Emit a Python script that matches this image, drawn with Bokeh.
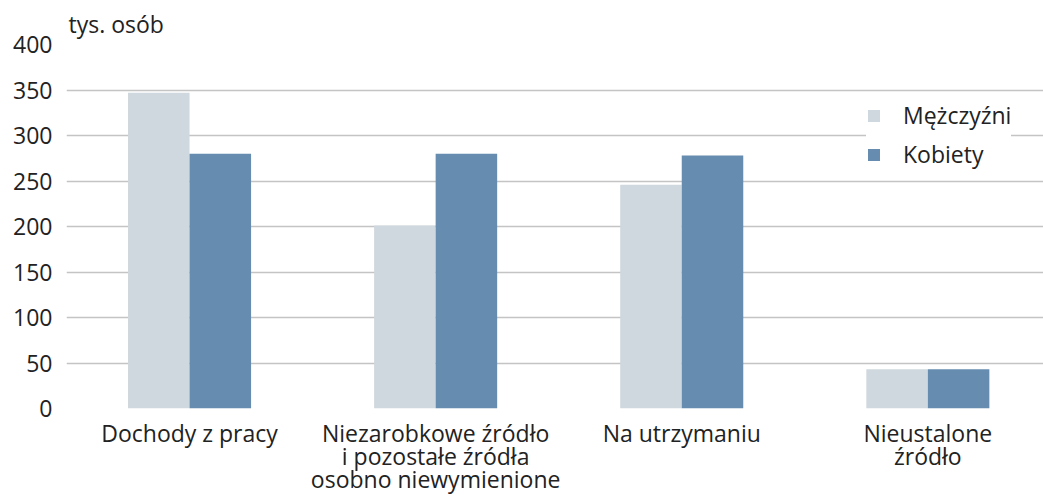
from bokeh.plotting import figure
from bokeh.models import FixedTicker, Legend, LegendItem, Range1d, ColumnDataSource
from bokeh.embed import file_html
from bokeh.resources import INLINE

categories = ["Dochody z pracy", "Niezarobkowe źródło\ni pozostałe źródła\nosobno niewymienione",
              "Na utrzymaniu", "Nieustalone\nźródło"]
men = [347, 201, 246, 43]
women = [280, 280, 278, 43]
series_names = ["Mężczyźni", "Kobiety"]
colors = ["#CFD8DE", "#668CB0"]
y_ticks = [0, 50, 100, 150, 200, 250, 300, 350, 400]

FONT = "Open Sans"
FS = "23px"
centers = [i + 0.5 for i in range(len(categories))]

p = figure(width=1043, height=497, output_backend="svg", toolbar_location=None,
           x_range=Range1d(0, 3.97), y_range=Range1d(0, 400),
           min_border_left=66, min_border_top=44, min_border_right=0, min_border_bottom=0,
           title="tys. osób")
p.outline_line_color = None
p.background_fill_color = "white"
p.border_fill_color = "white"
p.title.text_font = FONT
p.title.text_font_size = FS
p.title.text_font_style = "normal"
p.title.text_color = "#222222"
p.title.align = "left"
p.title.offset = 2
p.title.standoff = 9

src_m = ColumnDataSource(dict(x=[c - 0.125 for c in centers], top=men))
src_w = ColumnDataSource(dict(x=[c + 0.125 for c in centers], top=women))
rm = p.vbar(x="x", top="top", width=0.25, source=src_m, fill_color=colors[0], line_color=None)
rw = p.vbar(x="x", top="top", width=0.25, source=src_w, fill_color=colors[1], line_color=None)

p.xgrid.grid_line_color = None
p.ygrid.grid_line_color = "#C4C4C4"
p.ygrid.grid_line_width = 1.5
p.yaxis.ticker = FixedTicker(ticks=y_ticks)
p.yaxis.axis_line_color = None
p.yaxis.major_tick_line_color = None
p.yaxis.minor_tick_line_color = None
p.yaxis.major_label_text_font = FONT
p.yaxis.major_label_text_font_size = FS
p.yaxis.major_label_text_color = "#222222"
p.yaxis.major_label_standoff = 8

p.xaxis.ticker = FixedTicker(ticks=centers)
p.xaxis.major_label_overrides = {c: lab for c, lab in zip(centers, categories)}
p.xaxis.axis_line_color = None
p.xaxis.major_tick_line_color = None
p.xaxis.minor_tick_line_color = None
p.xaxis.major_label_text_font = FONT
p.xaxis.major_label_text_font_size = FS
p.xaxis.major_label_text_color = "#222222"
p.xaxis.major_label_standoff = 2
p.xaxis.major_label_text_line_height = 0.72

legend = Legend(items=[LegendItem(label=series_names[0], renderers=[rm]),
                       LegendItem(label=series_names[1], renderers=[rw])],
                location=(800, 238), glyph_width=15, glyph_height=15, label_height=20,
                spacing=7, padding=12, margin=0, label_standoff=22,
                label_text_font=FONT, label_text_font_size=FS, label_text_color="#222222",
                border_line_color=None, background_fill_color="white", background_fill_alpha=1.0)
p.add_layout(legend)

open("out.html", "w").write(file_html(p, INLINE))
